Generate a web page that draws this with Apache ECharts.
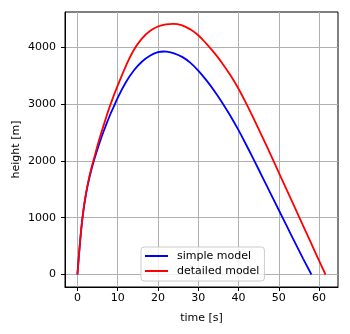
<!DOCTYPE html>
<html>
<head>
<meta charset="utf-8">
<script src="https://cdn.jsdelivr.net/npm/echarts@6/dist/echarts.min.js"></script>
<style>html,body{margin:0;padding:0;background:#fff}#c{width:350px;height:334px}</style>
</head>
<body>
<div id="c"></div>
<script>
var seriesNames = ['simple model', 'detailed model'];
var simpleTime = [0,0.5,1,1.5,2,2.5,3,3.5,4,5,6,7,8,9,10,12,14,16,18,20,21.5,22,24,26,28,30,32,34,36,38,40,42,44,46,48,50,52,54,56,58.1];
var simpleHeight = [0,440,830,1130,1360,1550,1710,1850,1980,2210,2420,2610,2790,2950,3110,3380,3590,3745,3850,3912,3925,3923,3893,3830,3730,3590,3420,3230,3020,2790,2540,2270,1990,1705,1420,1135,850,565,285,0];
var detailedTime = [0,0.5,1,1.5,2,2.5,3,3.5,4,5,6,7,8,9,10,12,14,16,18,20,22,23.7,26,28,30,32,34,36,38,40,42,44,46,48,50,52,54,56,58,60,61.6];
var detailedHeight = [0,440,835,1135,1370,1565,1735,1880,2010,2270,2510,2735,2950,3145,3325,3665,3950,4150,4285,4365,4402,4410,4385,4315,4210,4065,3900,3715,3505,3270,3000,2710,2410,2105,1795,1485,1175,865,555,245,0];
var xTicks = [0,10,20,30,40,50,60];
var yTicks = [0,1000,2000,3000,4000];
var xName = 'time [s]';
var yName = 'height [m]';

function pairs(t, h) { return t.map(function (v, i) { return [v, h[i]]; }); }
function plain(v) { return String(v); }

var FONT = 'DejaVu Sans';
var chart = echarts.init(document.getElementById('c'), null, {renderer: 'canvas'});
chart.setOption({
  animation: false,
  backgroundColor: '#fff',
  grid: {left: 65, right: 12, top: 12, bottom: 47, show: true, borderColor: '#000', borderWidth: 1, containLabel: false, outerBoundsMode: 'none'},
  legend: {
    orient: 'vertical', left: 141, top: 247,
    data: seriesNames,
    icon: 'rect', itemWidth: 23, itemHeight: 2, itemGap: 3,
    padding: [3, 5, 4, 4],
    backgroundColor: 'rgba(255,255,255,0.8)', borderColor: '#cccccc', borderWidth: 1, borderRadius: 3,
    textStyle: {fontFamily: FONT, fontSize: 11, color: '#000', lineHeight: 12, padding: [0, 0, 0, 4]}
  },
  xAxis: {
    type: 'value', min: -3.08, max: 64.7,
    name: xName, nameLocation: 'middle', nameGap: 26, nameMoveOverlap: false,
    nameTextStyle: {fontFamily: FONT, fontSize: 11, color: '#000'},
    axisLine: {show: true, onZero: false, lineStyle: {color: '#000', width: 1}},
    axisTick: {show: true, inside: false, length: 4, lineStyle: {color: '#000'}, customValues: xTicks},
    axisLabel: {fontFamily: FONT, fontSize: 11, color: '#000', margin: 6, customValues: xTicks, formatter: plain},
    splitLine: {show: true, lineStyle: {color: '#b0b0b0', width: 1}}
  },
  yAxis: {
    type: 'value', min: -220, max: 4620,
    name: yName, nameLocation: 'middle', nameGap: 43, nameMoveOverlap: false,
    nameTextStyle: {fontFamily: FONT, fontSize: 11, color: '#000'},
    axisLine: {show: true, onZero: false, lineStyle: {color: '#000', width: 1}},
    axisTick: {show: true, inside: false, length: 4, lineStyle: {color: '#000'}, customValues: yTicks},
    axisLabel: {fontFamily: FONT, fontSize: 11, color: '#000', margin: 9, customValues: yTicks, formatter: plain},
    splitLine: {show: true, lineStyle: {color: '#b0b0b0', width: 1}}
  },
  series: [
    {name: seriesNames[0], type: 'line', data: pairs(simpleTime, simpleHeight), smooth: 0.4, symbol: 'none', lineStyle: {color: '#0000ff', width: 1.8}, itemStyle: {color: '#0000ff'}},
    {name: seriesNames[1], type: 'line', data: pairs(detailedTime, detailedHeight), smooth: 0.4, symbol: 'none', lineStyle: {color: '#ff0000', width: 1.8}, itemStyle: {color: '#ff0000'}}
  ]
});
</script>
</body>
</html>
